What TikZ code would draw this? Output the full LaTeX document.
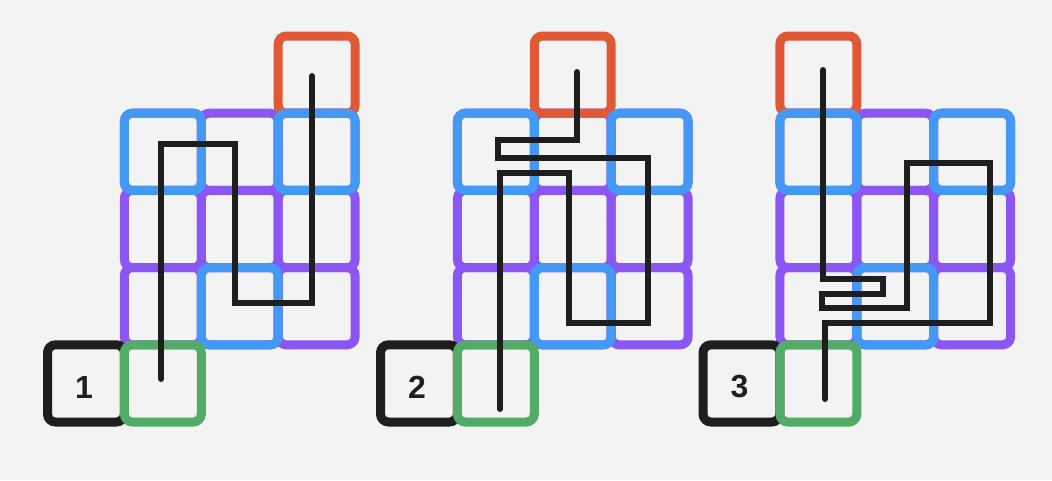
\documentclass[tikz,border=0pt]{standalone}
\usepackage{fontspec}
\setmainfont{Liberation Sans}
\definecolor{bg}{HTML}{F3F3F3}
\definecolor{cred}{HTML}{E05835}
\definecolor{cblue}{HTML}{4499F6}
\definecolor{cpurple}{HTML}{8C56F5}
\definecolor{cgreen}{HTML}{52AB66}
\definecolor{cink}{HTML}{1E1E1E}
\tikzset{
  cellbox/.style={line width=9pt, rounded corners=8pt, inner sep=0pt, outer sep=0pt,
    minimum width=76.9pt, minimum height=77.2pt, rectangle},
  route/.style={draw=cink, line width=6pt, line cap=round, line join=miter},
  digit/.style={text=cink, font=\fontsize{32}{32}\selectfont\bfseries}
}
% #1 panel name, #2 red column, #3 label
\newcommand\puzzlegrid[3]{%
  \foreach \c in {1,2,3}{\foreach \r in {1,2,3}{%
    \node[cellbox, draw=cpurple] (#1-p\c\r) at ({47.5+(\c+0.5)*76.9},{36+(\r+0.5)*77.2}) {};}}
  \node[cellbox, draw=cink] (#1-key) at ({47.5+0.5*76.9},{36+4.5*77.2}) {};
  \node[cellbox, draw=cred] (#1-goal) at ({47.5+(#2+0.5)*76.9},{36+0.5*77.2}) {};
  \foreach \c/\r in {1/1,3/1,2/3}{%
    \node[cellbox, draw=cblue] (#1-b\c\r) at ({47.5+(\c+0.5)*76.9},{36+(\r+0.5)*77.2}) {};}
  \node[cellbox, draw=cgreen] (#1-start) at ({47.5+1.5*76.9},{36+4.5*77.2}) {};
  \node[digit] (#1-label) at (84,387) {#3};
}
\begin{document}
\begin{tikzpicture}[x=1pt,y=-1pt]
  \useasboundingbox (0,0) rectangle (1052,480);
  \fill[bg] (0,0) rectangle (1052,480);
  \begin{scope}
    \puzzlegrid{a}{3}{1}
  \end{scope}
  \begin{scope}[xshift=333pt]
    \puzzlegrid{b}{2}{2}
  \end{scope}
  \begin{scope}[xshift=655.5pt]
    \puzzlegrid{c}{1}{3}
  \end{scope}
  % routes
  \draw[route] (161,379) -- (161,144) -- (235,144) -- (235,303) -- (312,303) -- (312,76);
  \draw[route] (577,72) -- (577,140) -- (498,140) -- (498,158) -- (648,158) -- (648,323)
    -- (569,323) -- (569,173) -- (500,173) -- (500,409);
  \draw[route] (823,70) -- (823,279) -- (883,279) -- (883,294) -- (822,294) -- (822,308)
    -- (907,308) -- (907,163) -- (990,163) -- (990,323) -- (825,323) -- (825,399);
\end{tikzpicture}
\end{document}
